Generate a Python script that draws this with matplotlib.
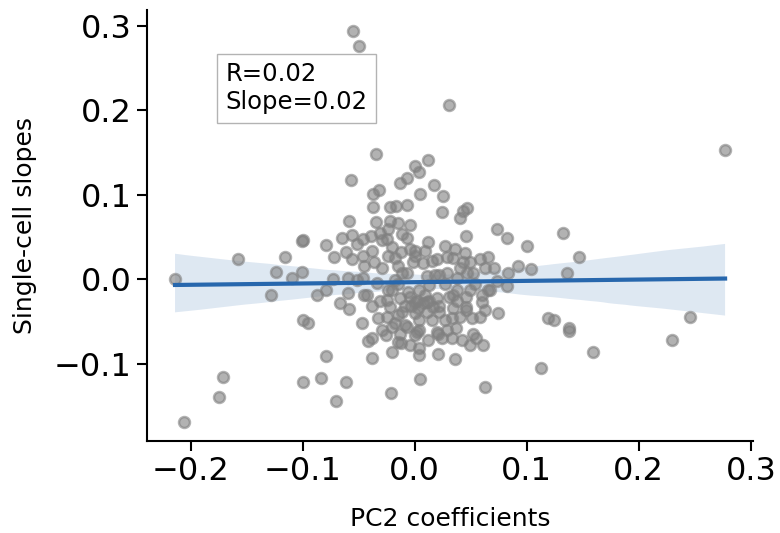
import numpy as np
import matplotlib
matplotlib.use("Agg")
import matplotlib.pyplot as plt
import seaborn as sns

# PC2 coefficient per cell and its single-cell slope
pc2_coef = [
    -0.214, -0.206, -0.175, -0.171, -0.158, -0.128, -0.124, -0.116, -0.110, -0.101,
    -0.101, -0.100, -0.100, -0.095, -0.100, -0.087, -0.084, -0.079, -0.079, -0.079,
    -0.073, -0.072, -0.070, -0.067, -0.065, -0.061, -0.061, -0.060, -0.060, -0.059,
    -0.059, -0.057, -0.056, -0.056, -0.055, -0.052, -0.052, -0.050, -0.047, -0.046,
    -0.046, -0.046, -0.045, -0.042, -0.038, -0.038, -0.038, -0.038, -0.039, -0.037,
    -0.032, -0.037, -0.035, -0.035, -0.036, -0.029, -0.029, -0.025, -0.024, -0.022,
    -0.017, -0.022, -0.015, -0.013, -0.007, -0.020, -0.015, -0.024, -0.025, -0.022,
    -0.025, -0.018, -0.013, -0.026, -0.020, -0.015, -0.018, -0.009, -0.009, -0.021,
    0.000, 0.004, 0.012, 0.017, 0.005, 0.025, -0.007, 0.024, 0.040, 0.043,
    0.047, -0.004, -0.011, -0.007, 0.012, 0.046, 0.073, 0.082, 0.100, 0.000,
    -0.012, 0.045, 0.007, 0.020, 0.029, 0.034, 0.043, 0.058, 0.065, 0.063,
    0.092, 0.083, -0.007, 0.011, 0.022, 0.029, 0.038, 0.052, 0.031, 0.277,
    0.132, 0.147, 0.104, 0.136, 0.082, 0.065, 0.074, 0.246, 0.119, 0.124,
    0.138, 0.138, 0.230, 0.159, 0.113, 0.063, 0.005, 0.021, 0.036, 0.061,
    0.004, 0.004, -0.012, 0.021, 0.024, 0.033, 0.037, 0.052, 0.055, -0.007,
    0.004, 0.000, 0.060, 0.063, 0.051, 0.058, 0.046, 0.038, 0.034, 0.016,
    0.015, -0.011, 0.002, 0.011, 0.022, -0.004, 0.067, 0.060, 0.049, 0.004,
    -0.004, 0.000, 0.015, 0.040, -0.011, 0.018, 0.047, -0.034, -0.043, -0.020,
    0.000, 0.007, 0.020, 0.031, 0.038, 0.046, 0.000, 0.011, 0.022, 0.034,
    0.040, 0.046, -0.020, 0.004, 0.020, 0.029, -0.013, 0.002, -0.029, -0.002,
    0.013, 0.027, 0.054, 0.073, -0.015, -0.031, -0.018, -0.024, 0.009, 0.027,
    0.036, -0.006, -0.003, 0.003, 0.009, 0.013, 0.027, 0.033, -0.015, -0.033,
    -0.031, 0.042, 0.049, 0.012, -0.004, -0.045, 0.049, 0.071,
]
cell_slope = [
    0.000, -0.168, -0.139, -0.115, 0.024, -0.019, 0.009, 0.026, 0.002, 0.009,
    0.045, 0.046, -0.048, -0.051, -0.121, -0.019, -0.116, 0.041, -0.012, -0.091,
    0.000, 0.026, -0.144, -0.028, 0.049, 0.032, -0.121, 0.002, -0.016, -0.035,
    0.069, 0.118, 0.052, 0.024, 0.294, 0.042, -0.001, 0.276, -0.052, 0.048,
    0.028, 0.002, -0.019, -0.073, -0.032, -0.069, -0.093, 0.033, 0.051, 0.101,
    0.106, 0.085, 0.068, 0.148, 0.020, 0.014, 0.046, 0.048, 0.060, 0.085,
    0.087, 0.069, 0.067, 0.114, 0.120, 0.038, 0.016, -0.013, -0.045, -0.033,
    -0.024, -0.001, -0.022, -0.066, -0.086, -0.074, -0.051, -0.054, -0.031, -0.134,
    0.134, 0.127, 0.141, 0.112, 0.101, 0.098, 0.088, 0.080, 0.073, 0.081,
    0.084, 0.064, 0.054, 0.049, 0.044, 0.051, 0.060, 0.049, 0.039, 0.034,
    0.032, 0.031, 0.019, 0.024, 0.026, 0.025, 0.020, 0.024, 0.026, 0.013,
    0.016, 0.007, 0.007, 0.004, 0.005, 0.007, 0.002, 0.007, 0.206, 0.153,
    0.055, 0.026, 0.012, 0.007, -0.008, -0.013, -0.040, -0.044, -0.046, -0.048,
    -0.058, -0.061, -0.072, -0.086, -0.105, -0.127, -0.118, -0.088, -0.094, -0.078,
    -0.081, -0.089, -0.075, -0.064, -0.069, -0.069, -0.058, -0.064, -0.069, -0.056,
    -0.060, -0.066, -0.027, -0.036, -0.046, -0.045, -0.033, -0.025, -0.019, -0.033,
    -0.048, -0.039, -0.025, -0.027, -0.031, -0.021, -0.013, -0.019, -0.013, -0.013,
    0.036, 0.028, 0.022, 0.014, 0.007, 0.005, 0.007, -0.004, -0.019, -0.013,
    -0.027, -0.028, -0.022, -0.021, -0.013, -0.021, -0.040, -0.039, -0.039, -0.034,
    -0.045, -0.036, -0.056, -0.048, -0.062, -0.060, -0.064, -0.062, -0.060, 0.020,
    -0.007, -0.005, -0.005, -0.002, -0.005, 0.055, 0.025, 0.028, 0.034, 0.040,
    0.036, -0.015, -0.031, -0.034, -0.019, -0.025, -0.048, -0.046, -0.042, -0.046,
    -0.025, -0.072, -0.078, -0.072, -0.078, 0.016, 0.020, 0.013,
]

x_ticks = [-0.2, -0.1, 0.0, 0.1, 0.2, 0.3]
y_ticks = [-0.1, 0.0, 0.1, 0.2, 0.3]
stats_text = "R=0.02\nSlope=0.02"

line_color = "#2767ad"

fig = plt.figure(figsize=(7.8, 5.33), dpi=100)
ax = fig.add_axes([0.1885, 0.1726, 0.777, 0.808])

x = np.array(pc2_coef)
y = np.array(cell_slope)

ax.scatter(x, y, s=62, color="gray", alpha=0.6, linewidths=1.8, zorder=2)
sns.regplot(x=x, y=y, ax=ax, scatter=False, color=line_color, seed=0,
            line_kws={"lw": 3, "zorder": 3})

ax.set_xlim(-0.239, 0.302)
ax.set_ylim(-0.191, 0.318)
ax.set_xticks(x_ticks)
ax.set_yticks(y_ticks)
ax.tick_params(labelsize=23, length=7.5, width=1.5)
for side in ("top", "right"):
    ax.spines[side].set_visible(False)
for side in ("left", "bottom"):
    ax.spines[side].set_linewidth(1.5)

ax.set_xlabel("PC2 coefficients", fontsize=18, labelpad=14)
ax.set_ylabel("Single-cell slopes", fontsize=18, labelpad=12)

ax.text(0.130, 0.879, stats_text, transform=ax.transAxes, fontsize=17.5,
        va="top", ha="left", linespacing=1.2,
        bbox=dict(boxstyle="square,pad=0.35", fc="white", ec="0.7", lw=1))

fig.savefig("out.png", dpi=100)
